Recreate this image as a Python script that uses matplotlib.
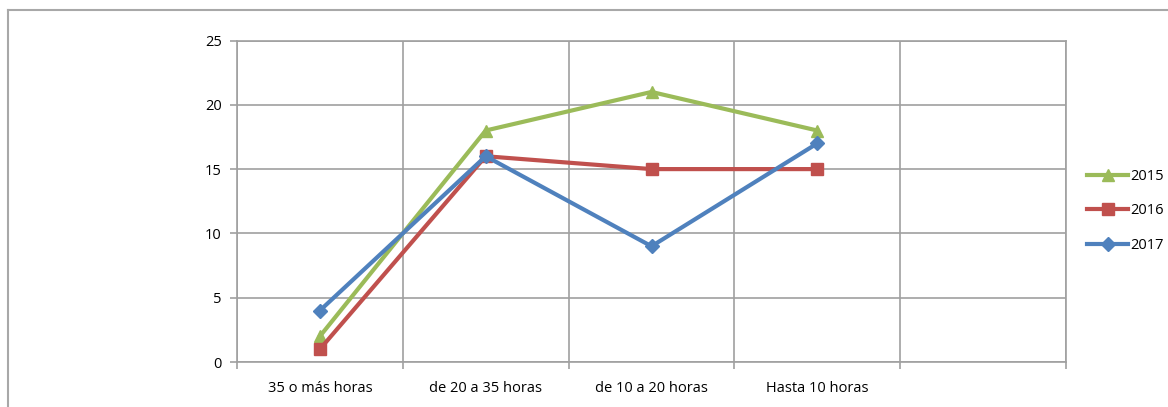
import matplotlib.pyplot as plt
import numpy as np
from matplotlib.lines import Line2D

categories = ["35 o más horas", "de 20 a 35 horas", "de 10 a 20 horas", "Hasta 10 horas", ""]
years = ["2015", "2016", "2017"]
v2015 = [2, 18, 21, 18]
v2016 = [1, 16, 15, 15]
v2017 = [4, 16, 9, 17]

colors = {"2015": "#9BBB59", "2016": "#C0504D", "2017": "#4F81BD"}
markers = {"2015": "^", "2016": "s", "2017": "D"}
msizes = {"2015": 9, "2016": 9, "2017": 7}
grid_c = "#A0A0A0"

plt.rcParams["font.family"] = ["Open Sans", "DejaVu Sans"]

fig = plt.figure(figsize=(11.68, 4.07), dpi=100)
ax = fig.add_axes([237 / 1168, 1 - 362 / 407, (1066 - 237) / 1168, (362 - 40.5) / 407])

# outer chart border (top and left visible)
fig.add_artist(Line2D([8 / 1168, 1], [1 - 10 / 407, 1 - 10 / 407], color="#A8A8A8", lw=1.5))
fig.add_artist(Line2D([8 / 1168, 8 / 1168], [0, 1 - 10 / 407], color="#A8A8A8", lw=1.5))

n = len(categories)
x = np.arange(4) + 0.5
for yr, vals in zip(years, [v2015, v2016, v2017]):
    ax.plot(x, vals, color=colors[yr], lw=3, marker=markers[yr],
            markersize=msizes[yr], label=yr, zorder=3)

ax.set_xlim(0, n)
ax.set_ylim(0, 25)
ax.set_yticks(range(0, 26, 5))
ax.set_xticks(np.arange(n + 1))
ax.set_xticklabels([])
ax.set_xticks(np.arange(n) + 0.5, minor=True)
ax.set_xticklabels(categories, minor=True)
ax.tick_params(axis="x", which="minor", length=0, pad=14, labelsize=10.5)
ax.tick_params(axis="x", which="major", length=5, color=grid_c, width=1.2)
ax.tick_params(axis="y", length=5, color=grid_c, width=1.2, labelsize=10.5, pad=6)
ax.grid(True, which="major", color=grid_c, lw=1.2)
for s in ax.spines.values():
    s.set_color(grid_c)
    s.set_linewidth(1.2)

ax.legend(loc="center left", bbox_to_anchor=(1.01, 0.47), frameon=False,
          fontsize=10.5, handlelength=2.8, labelspacing=1.35, handletextpad=0.15)

fig.savefig("out.png", dpi=100)
